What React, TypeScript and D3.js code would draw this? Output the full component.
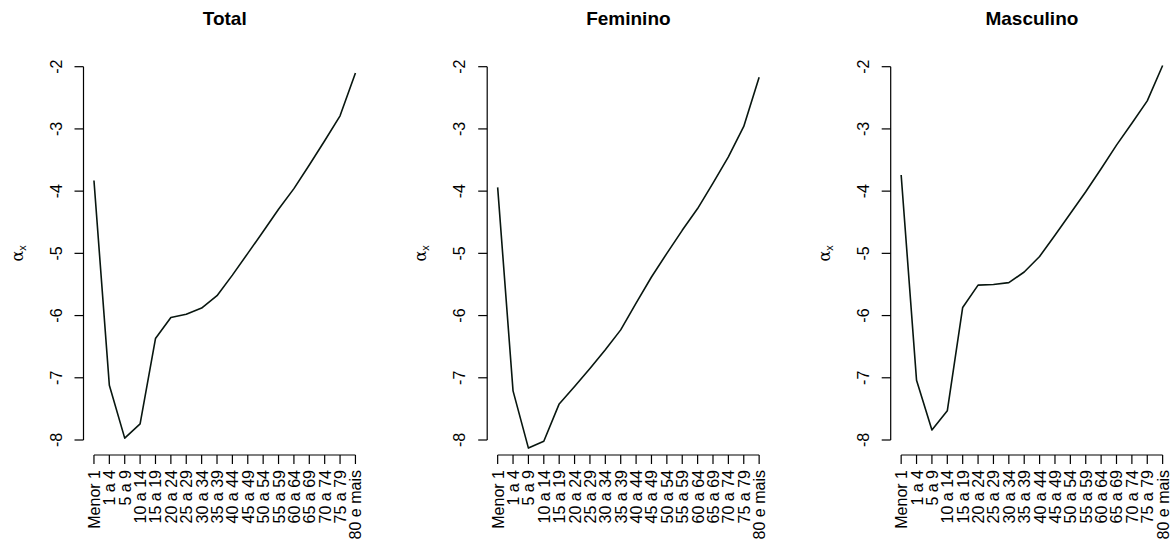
import React from "react";
import * as d3 from "d3";

const ageGroups: string[] = [
  "Menor 1", "1 a 4", "5 a 9", "10 a 14", "15 a 19", "20 a 24", "25 a 29",
  "30 a 34", "35 a 39", "40 a 44", "45 a 49", "50 a 54", "55 a 59",
  "60 a 64", "65 a 69", "70 a 74", "75 a 79", "80 e mais",
];

const totalAlpha: number[] = [
  -3.83, -7.12, -7.97, -7.74, -6.37, -6.03, -5.98, -5.88, -5.68,
  -5.35, -5.0, -4.65, -4.29, -3.96, -3.58, -3.19, -2.79, -2.1,
];

const femininoAlpha: number[] = [
  -3.94, -7.21, -8.13, -8.02, -7.42, -7.14, -6.85, -6.55, -6.23,
  -5.8, -5.38, -5.0, -4.63, -4.28, -3.87, -3.45, -2.96, -2.17,
];

const masculinoAlpha: number[] = [
  -3.74, -7.04, -7.84, -7.53, -5.87, -5.51, -5.5, -5.47, -5.3,
  -5.05, -4.71, -4.36, -4.01, -3.64, -3.26, -2.91, -2.55, -1.98,
];

const yTicks: number[] = [-2, -3, -4, -5, -6, -7, -8];

const panelTitles: string[] = ["Total", "Feminino", "Masculino"];
const panelSeries: number[][] = [totalAlpha, femininoAlpha, masculinoAlpha];

const FONT = "'Liberation Sans', Arial, Helvetica, sans-serif";

function Panel({ left, title, values }: { left: number; title: string; values: number[] }) {
  const regionWidth = 282.4;
  const n = ageGroups.length;
  const x = d3
    .scaleLinear()
    .domain([1 - 0.04 * (n - 1), n + 0.04 * (n - 1)])
    .range([left, left + regionWidth]);
  const y = d3.scaleLinear().domain([-8, -2]).range([440, 66.7]);
  const axisY = 455;
  const line = d3
    .line<number>()
    .x((_, i) => x(i + 1))
    .y((d) => y(d));
  const cx = left + regionWidth / 2;
  const yMid = (y(-2) + y(-8)) / 2;
  return (
    <g>
      <text x={cx} y={25} textAnchor="middle" fontFamily={FONT} fontWeight="bold" fontSize={19}>
        {title}
      </text>
      {/* y axis */}
      <line x1={left} x2={left} y1={y(-2)} y2={y(-8)} stroke="#000" strokeWidth={1.2} />
      {yTicks.map((t) => (
        <g key={t}>
          <line x1={left - 9} x2={left} y1={y(t)} y2={y(t)} stroke="#000" strokeWidth={1.2} />
          <text
            transform={`translate(${left - 22},${y(t)}) rotate(-90)`}
            textAnchor="middle"
            fontFamily={FONT}
            fontSize={16}
          >
            {t}
          </text>
        </g>
      ))}
      {/* y label */}
      <text transform={`translate(${left - 61},${yMid}) rotate(-90)`} textAnchor="middle" fontSize={16}>
        <tspan fontFamily="'DejaVu Serif', serif">α</tspan>
        <tspan fontFamily={FONT} fontSize={11} dy={3}>x</tspan>
      </text>
      {/* x axis */}
      <line x1={x(1)} x2={x(n)} y1={axisY} y2={axisY} stroke="#000" strokeWidth={1.2} />
      {ageGroups.map((g, i) => (
        <g key={g}>
          <line x1={x(i + 1)} x2={x(i + 1)} y1={axisY} y2={axisY + 9} stroke="#000" strokeWidth={1.2} />
          <text
            transform={`translate(${x(i + 1) + 6},${axisY + 15}) rotate(-90)`}
            textAnchor="end"
            fontFamily={FONT}
            fontSize={16}
          >
            {g}
          </text>
        </g>
      ))}
      <path d={line(values) ?? ""} fill="none" stroke="#08160f" strokeWidth={1.6} strokeLinejoin="round" />
    </g>
  );
}

export default function App() {
  const lefts = [83.5, 487.2, 890.7];
  return (
    <svg
      width={1173}
      height={544}
      style={{ position: "absolute", left: 0, top: 0, background: "#fff" }}
    >
      <rect width={1173} height={544} fill="#fff" />
      {panelTitles.map((t, i) => (
        <Panel key={t} left={lefts[i]} title={t} values={panelSeries[i]} />
      ))}
    </svg>
  );
}
